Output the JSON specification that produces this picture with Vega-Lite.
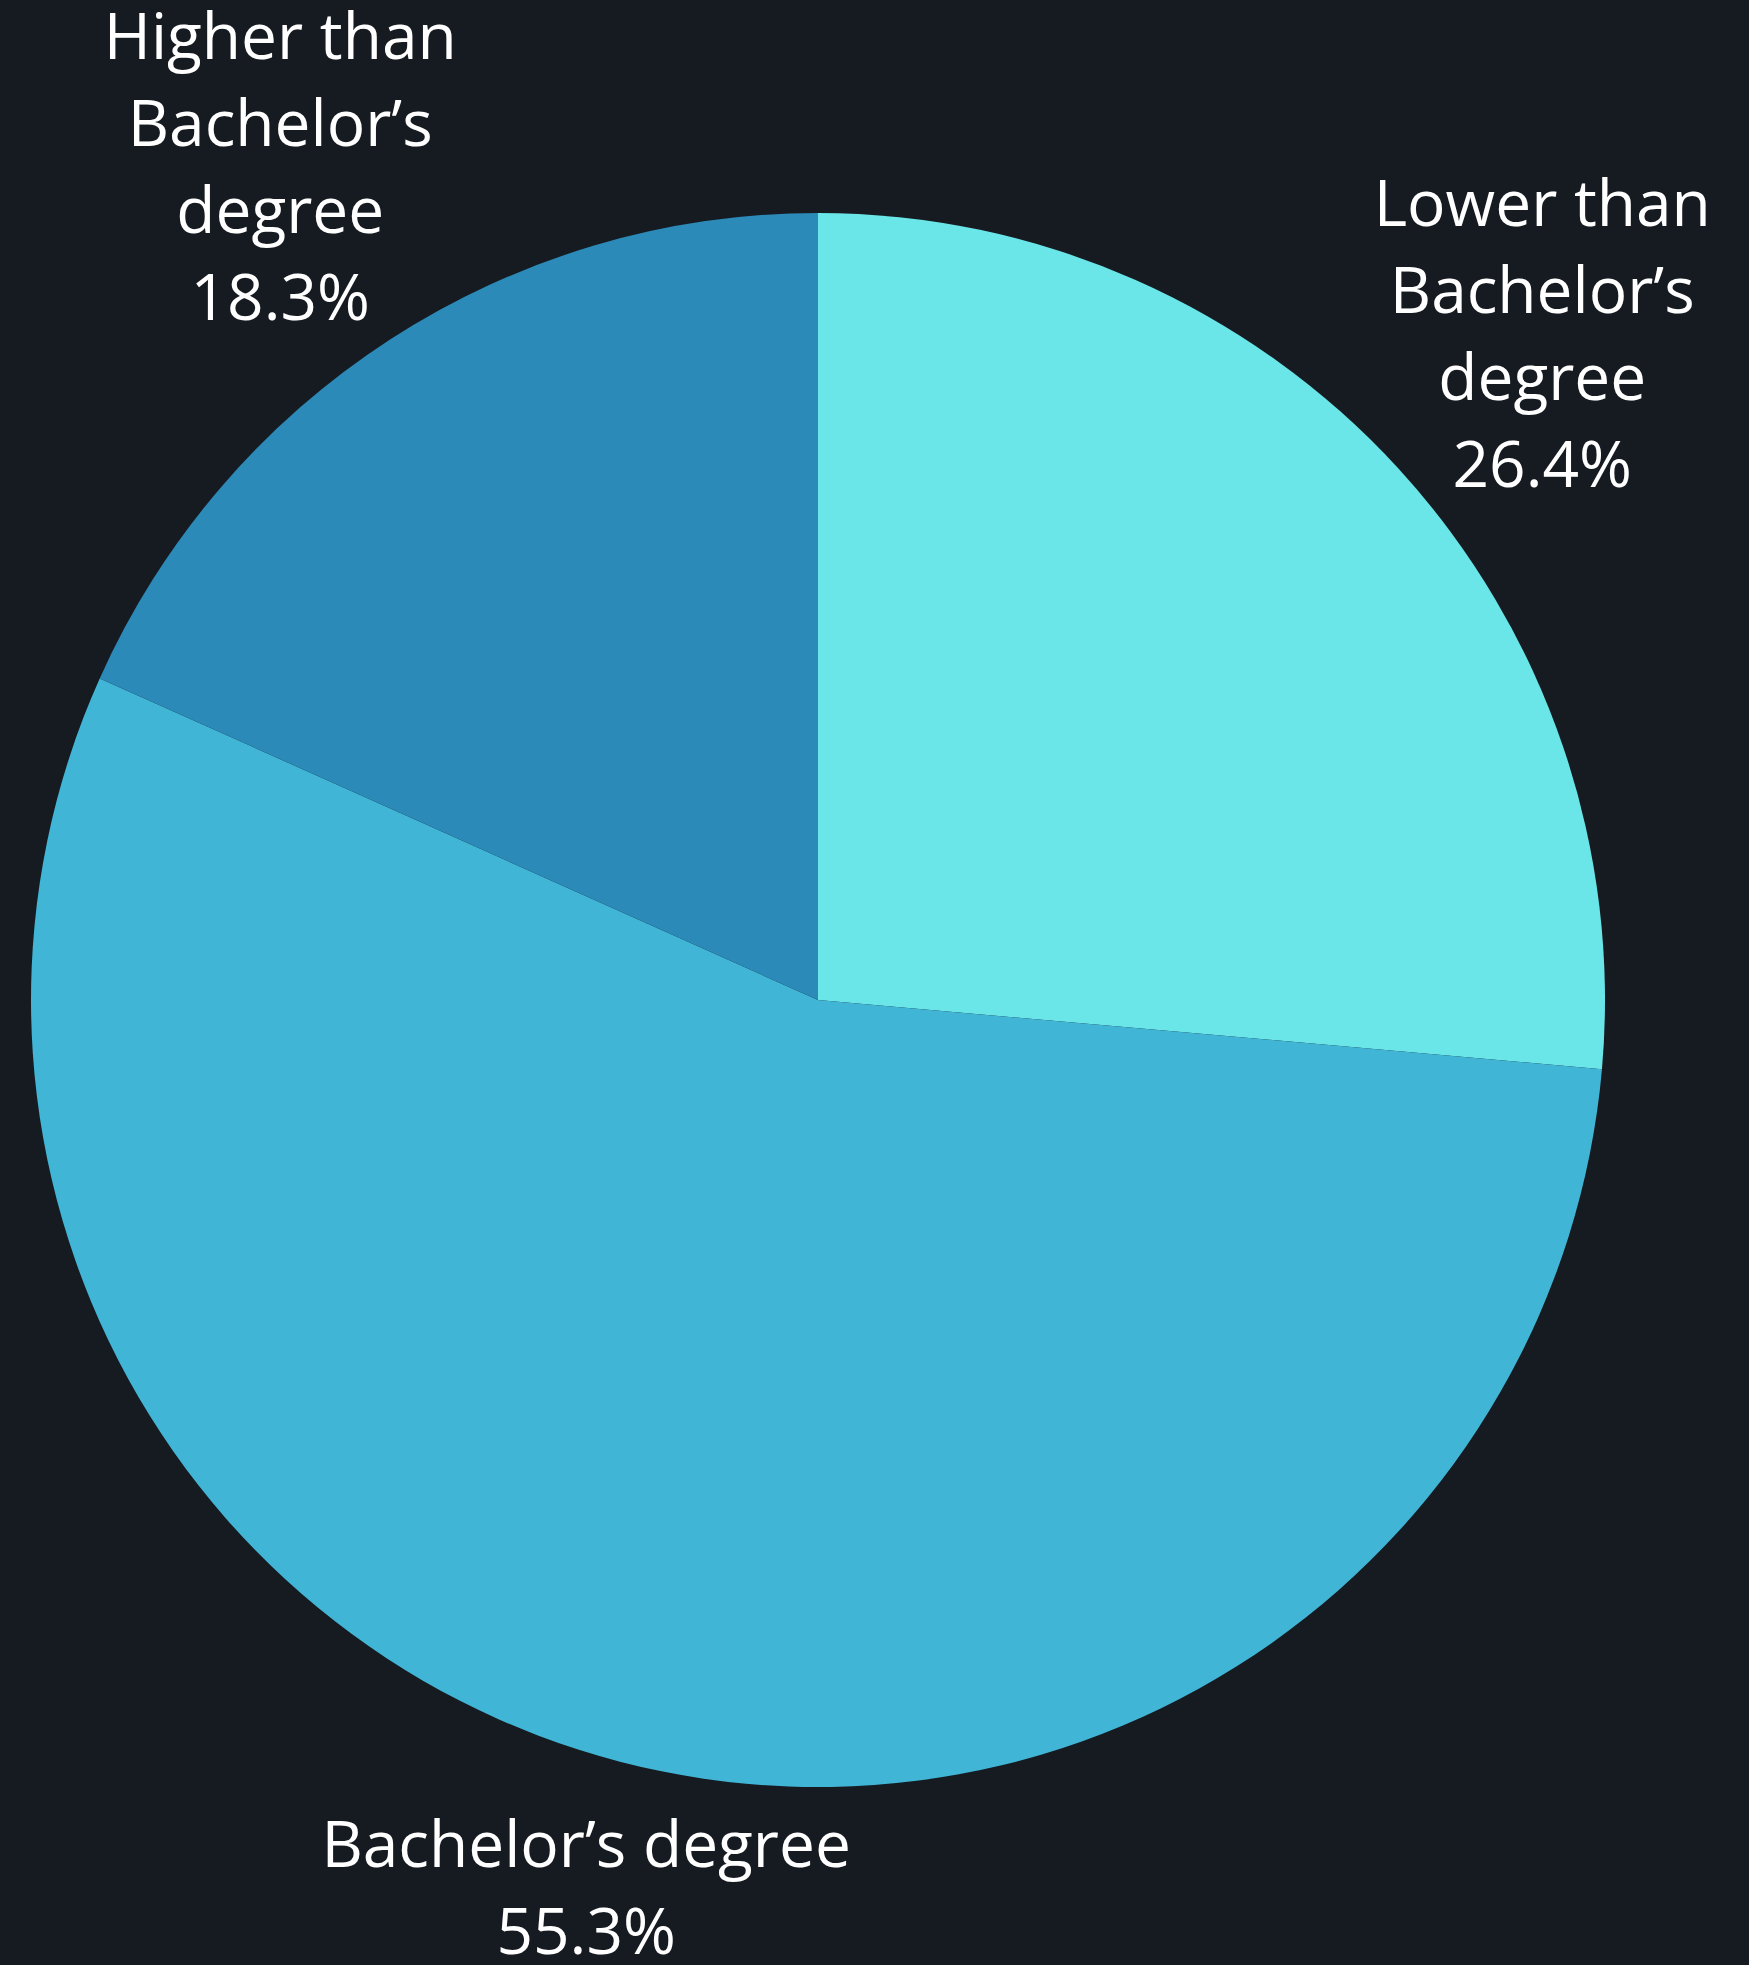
{
  "$schema": "https://vega.github.io/schema/vega-lite/v6.json",
  "autosize": "none",
  "width": 1636,
  "height": 1930,
  "padding": {"left": 0, "top": 35, "right": 113, "bottom": 0},
  "background": "#161a21",
  "config": {"view": {"stroke": null}},
  "data": {
    "values": [
      {"cat": "Lower than Bachelor’s degree", "pct": 26.4, "rank": 1, "label": "Lower than\nBachelor’s\ndegree\n26.4%"},
      {"cat": "Bachelor’s degree", "pct": 55.3, "rank": 2, "label": "Bachelor’s degree\n55.3%"},
      {"cat": "Higher than Bachelor’s degree", "pct": 18.3, "rank": 3, "label": "Higher than\nBachelor’s\ndegree\n18.3%"}
    ]
  },
  "encoding": {
    "theta": {"field": "pct", "type": "quantitative", "stack": true},
    "order": {"field": "rank", "type": "ordinal"}
  },
  "layer": [
    {
      "mark": {"type": "arc", "outerRadius": 787},
      "encoding": {
        "color": {
          "field": "cat",
          "type": "nominal",
          "scale": {
            "domain": ["Lower than Bachelor’s degree", "Bachelor’s degree", "Higher than Bachelor’s degree"],
            "range": ["#6ae5e8", "#41b5d5", "#2b8ab8"]
          },
          "legend": null
        }
      }
    },
    {
      "mark": {"type": "text", "radius": 982, "dy": -130, "font": "Open Sans", "fontSize": 64, "lineBreak": "\n", "lineHeight": 87, "align": "center", "baseline": "middle", "color": "#ffffff"},
      "encoding": {
        "text": {"condition": {"test": "datum.rank !== 1", "value": ""}, "field": "label"}
      }
    },
    {
      "mark": {"type": "text", "radius": 921, "dy": -43, "font": "Open Sans", "fontSize": 64, "lineBreak": "\n", "lineHeight": 87, "align": "center", "baseline": "middle", "color": "#ffffff"},
      "encoding": {
        "text": {"condition": {"test": "datum.rank !== 2", "value": ""}, "field": "label"}
      }
    },
    {
      "mark": {"type": "text", "radius": 989, "dy": -130, "font": "Open Sans", "fontSize": 64, "lineBreak": "\n", "lineHeight": 87, "align": "center", "baseline": "middle", "color": "#ffffff"},
      "encoding": {
        "text": {"condition": {"test": "datum.rank !== 3", "value": ""}, "field": "label"}
      }
    }
  ]
}
